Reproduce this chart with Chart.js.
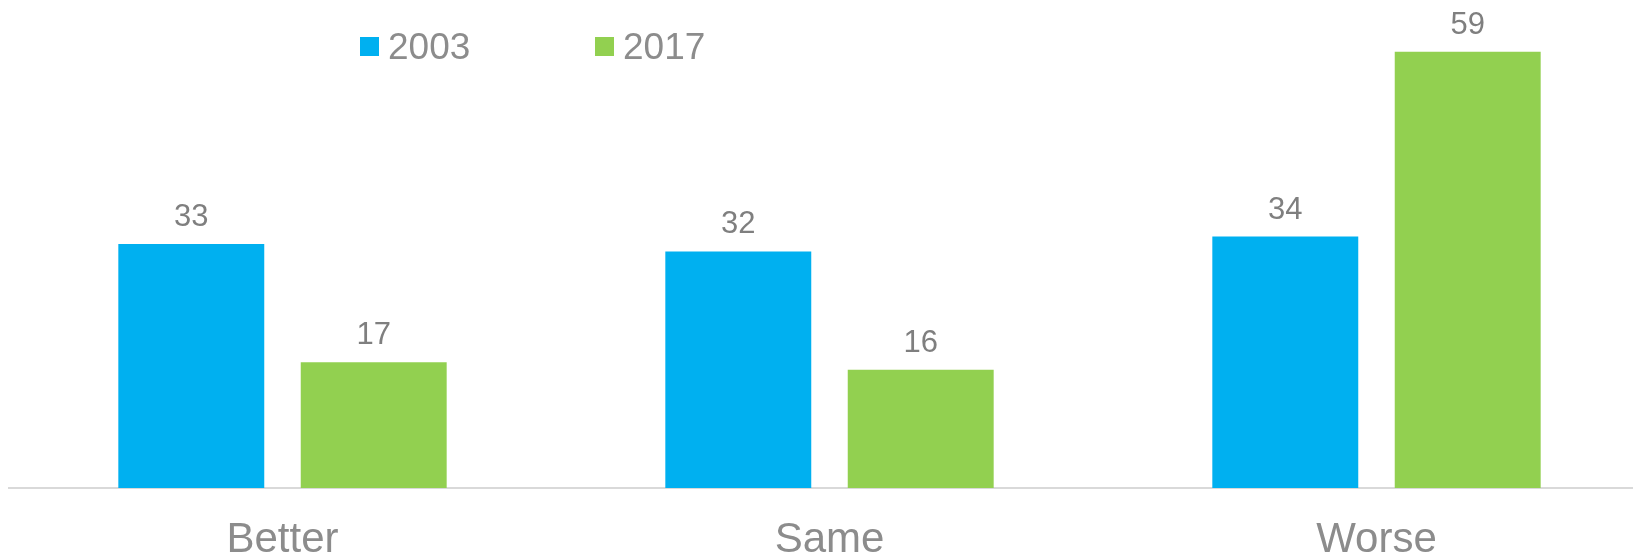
<!DOCTYPE html>
<html>
<head>
<meta charset="utf-8">
<script src="https://cdn.jsdelivr.net/npm/chart.js@4/dist/chart.umd.min.js"></script>
<style>
  html, body { margin: 0; padding: 0; overflow: hidden; background: #fff; }
  #wrap { position: relative; width: 1650px; height: 552px; }
</style>
</head>
<body>
<div id="wrap"><canvas id="compareChart"></canvas></div>
<script>
var categories = ['Better', 'Same', 'Worse'];
var years = ['2003', '2017'];
var values2003 = [33, 32, 34];
var values2017 = [17, 16, 59];

var FONT = '"Liberation Sans", Arial, sans-serif';

// value above every bar
var barValues = {
  id: 'barValues',
  afterDatasetsDraw: function (chart) {
    var ctx = chart.ctx;
    ctx.save();
    ctx.font = '31px ' + FONT;
    ctx.fillStyle = '#7f7f7f';
    ctx.textAlign = 'center';
    ctx.textBaseline = 'alphabetic';
    chart.data.datasets.forEach(function (ds, i) {
      chart.getDatasetMeta(i).data.forEach(function (bar, j) {
        ctx.fillText(ds.data[j], bar.x, bar.y - 18);
      });
    });
    ctx.restore();
  }
};

// small square + year, sitting inside the plot
var yearLegend = {
  id: 'yearLegend',
  afterDraw: function (chart) {
    var ctx = chart.ctx;
    ctx.save();
    ctx.font = '37px ' + FONT;
    ctx.textBaseline = 'alphabetic';
    chart.data.datasets.forEach(function (ds, i) {
      var x = 360 + i * 235;
      ctx.fillStyle = ds.backgroundColor;
      ctx.fillRect(x, 37, 19, 19);
      ctx.fillStyle = '#8c8c8c';
      ctx.fillText(ds.label, x + 28, 59);
    });
    ctx.restore();
  }
};

var ctx = document.getElementById('compareChart');
var compareChart = new Chart(ctx, {
  type: 'bar',
  data: {
    labels: categories,
    datasets: [{
      label: years[0],
      data: values2003,
      backgroundColor: '#00b0f0',
      categoryPercentage: 0.667,
      barPercentage: 0.8
    }, {
      label: years[1],
      data: values2017,
      backgroundColor: '#92d050',
      categoryPercentage: 0.667,
      barPercentage: 0.8
    }]
  },
  options: {
    responsive: true,
    maintainAspectRatio: false,
    animation: false,
    layout: {
      padding: { left: 9, right: 0, top: 0, bottom: 0 }
    },
    plugins: {
      legend: { display: false },
      tooltip: { enabled: false }
    },
    scales: {
      x: {
        grid: { display: false, drawTicks: false },
        border: { display: true, color: '#d9d9d9', width: 2 },
        ticks: {
          color: '#8c8c8c',
          padding: 27,
          font: { family: FONT, size: 42 }
        },
        afterFit: function (scale) {
          scale.height = 64;
        }
      },
      y: {
        display: false,
        min: 0,
        max: 66
      }
    }
  },
  plugins: [barValues, yearLegend]
});
</script>
</body>
</html>
